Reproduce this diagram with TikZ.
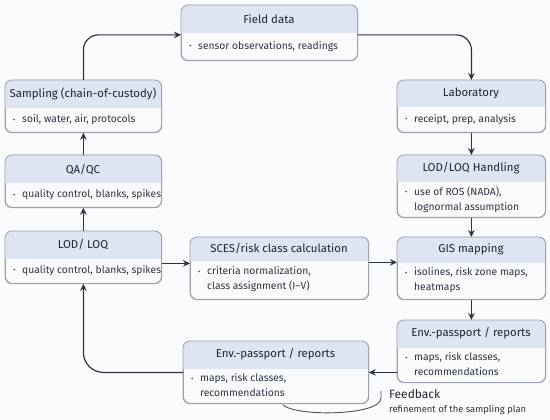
\documentclass[tikz,border=0pt]{standalone}
\usepackage{fontspec}
\usepackage{graphicx}
\setmainfont{Fira Sans}
\usetikzlibrary{arrows.meta,calc}
\definecolor{bgc}{HTML}{FAFBFC}
\definecolor{hdrc}{HTML}{DDE5F3}
\definecolor{bodyc}{HTML}{F9FAFC}
\definecolor{bordc}{HTML}{9AA2B2}
\definecolor{arrc}{HTML}{2B3344}
\definecolor{titc}{HTML}{1F2633}
\definecolor{txtc}{HTML}{2E3440}
\tikzset{
  boxnode/.style={draw=bordc, fill=bodyc, rounded corners=7pt, line width=0.8pt, inner sep=0pt},
  titletxt/.style={font=\fontsize{11.4}{13}\selectfont, text=titc, inner sep=0pt},
  bodytxt/.style={font=\fontsize{10.3}{15}\selectfont, text=txtc, inner sep=0pt, align=left},
  arr/.style={draw=arrc, line width=1.2pt, -{Stealth[length=7pt,width=6.5pt]}},
  fbline/.style={draw=arrc!85, line width=0.9pt}
}
\newcommand\bl{\makebox[9pt][l]{\raisebox{0.15ex}{\scalebox{0.7}{•}}}}
\newcommand\ind{\hspace*{9pt}}
% name, x, y, w, h, header height, title, body
\newcommand\mkbox[8]{%
  \pgfmathsetmacro\bxr{#2+#4}%
  \pgfmathsetmacro\byb{#3+#5}%
  \pgfmathsetmacro\byh{#3+#6}%
  \pgfmathsetmacro\bxc{#2+#4/2}%
  \pgfmathsetmacro\byhc{#3+#6/2}%
  \pgfmathsetmacro\bybc{(#3+#6+#3+#5)/2}%
  \node[boxnode, minimum width=#4pt, minimum height=#5pt, anchor=north west] (#1) at (#2,#3) {};
  \begin{scope}
    \clip (#2,#3) rectangle (\bxr,\byh);
    \fill[hdrc, rounded corners=7pt] (#2,#3) rectangle (\bxr,\byb);
  \end{scope}
  \draw[bordc, line width=0.8pt, rounded corners=7pt] (#1.north west) rectangle (#1.south east);
  \node[titletxt] (#1-t) at (\bxc,\byhc) {#7};
  \node[bodytxt, anchor=west] (#1-b) at (#2+8,\bybc) {#8};
}
\begin{document}
\begin{tikzpicture}[x=1pt,y=-1pt]
\fill[bgc] (0,0) rectangle (550,420);
\useasboundingbox (0,0) rectangle (550,420);

\mkbox{field}{181}{5}{176}{55}{28}{Field data}{\bl sensor observations, readings}
\mkbox{samp}{5}{80}{156}{52}{28}{Sampling (chain-of-custody)}{\bl soil, water, air, protocols}
\mkbox{qaqc}{5}{155}{156}{52}{28}{QA/QC}{\bl quality control, blanks, spikes}
\mkbox{lod}{5}{231}{156}{52}{27}{LOD/ LOQ}{\bl quality control, blanks, spikes}
\mkbox{sces}{190}{237}{178}{62}{23}{SCES/risk class calculation}{\bl criteria normalization,\\\ind class assignment (I–V)}
\mkbox{lab}{397}{80}{148}{52}{27}{Laboratory}{\bl receipt, prep, analysis}
\mkbox{hand}{397}{155}{148}{62}{27}{LOD/LOQ Handling}{\bl use of ROS (NADA),\\\ind lognormal assumption}
\mkbox{gis}{397}{237}{148}{62}{25}{GIS mapping}{\bl isolines, risk zone maps,\\\ind heatmaps}
\mkbox{envr}{397}{320}{148}{62}{27}{Env.-passport / reports}{\bl maps, risk classes,\\\ind recommendations}
\mkbox{envl}{183}{341}{185}{62}{27}{Env.-passport / reports}{\bl maps, risk classes,\\\ind recommendations}

\draw[arr, rounded corners=15pt] (samp.north) |- ([yshift=-2pt]field.west);
\draw[arr, rounded corners=15pt] ([yshift=-2pt]field.east) -| (lab.north);
\draw[arr] (lab.south) -- (hand.north);
\draw[arr] (qaqc.north) -- (samp.south);
\draw[arr] (lod.north) -- (qaqc.south);
\draw[arr] ([yshift=-6pt]lod.east) -- ([yshift=-6pt]lod.east -| sces.west);
\draw[arr] ([yshift=6pt]sces.east) -- ([yshift=6pt]gis.west);
\draw[arr] (hand.south) -- (gis.north);
\draw[arr] (gis.south) -- (envr.north);
\draw[arr] ([yshift=-21pt]envr.west) -- ([yshift=-21pt]envr.west -| envl.east);
\draw[arr, rounded corners=20pt] (envl.west) -| (lod.south);

\node[font=\fontsize{12}{14}\selectfont, text=titc, anchor=west, inner sep=0pt] (fbt) at (389,394) {Feedback};
\node[font=\fontsize{9.4}{11}\selectfont, text=txtc, anchor=west, inner sep=0pt] (fbs) at (389,410) {refinement of the sampling plan};
\draw[fbline] ([xshift=7pt,yshift=-1pt]envl.south) .. controls +(12,12) and +(0,18) .. ([xshift=-8pt,yshift=-4pt]fbt.west) -- ([xshift=-8pt,yshift=3pt]fbt.west);
\end{tikzpicture}
\end{document}
